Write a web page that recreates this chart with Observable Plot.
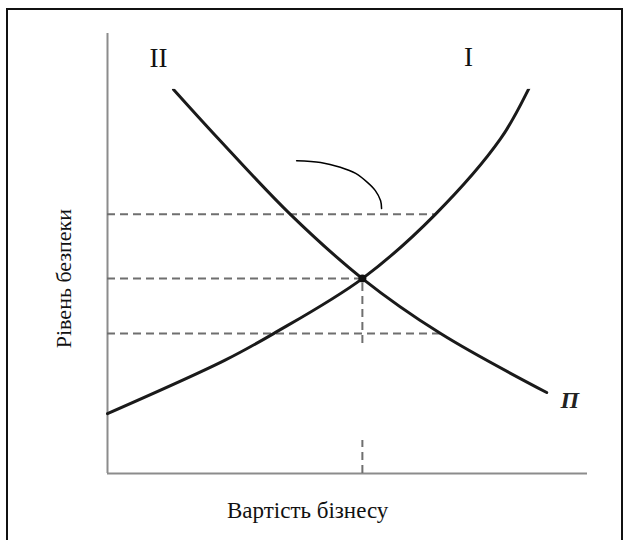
<!DOCTYPE html>
<html>
<head>
<meta charset="utf-8">
<script src="https://cdn.jsdelivr.net/npm/d3@7"></script>
<script src="https://cdn.jsdelivr.net/npm/@observablehq/plot@0.6"></script>
<style>
  html, body { margin: 0; padding: 0; background: #fff; }
  #wrap { position: relative; width: 628px; height: 540px; overflow: hidden; }
  #frame { position: absolute; left: 6px; top: 8px; width: 617px; height: 540px; border: 2px solid #111; box-sizing: border-box; pointer-events: none; }
  #chart { position: absolute; left: 0; top: 0; }
</style>
</head>
<body>
<div id="wrap"><div id="chart"></div><div id="frame"></div></div>
<script>
// Curve I (rising) and curve II (falling, labelled "П")
const curveIX = [0, 2.44, 3.46, 5.31, 6.83, 8.19, 8.77, 9.04];
const curveIY = [1.36, 2.57, 3.18, 4.43, 5.89, 7.61, 8.73, 9.39];
const curveIIX = [1.375, 2.31, 3.81, 5.31, 6.94, 9.15];
const curveIIY = [8.73, 7.61, 5.89, 4.43, 3.18, 1.84];

// Equilibrium point
const eqX = [5.31];
const eqY = [4.43];

// Dashed guide levels: [y level, x end]
const levelY = [5.89, 4.43, 3.18];
const levelXEnd = [6.83, 5.31, 6.94];

// Bracket arc (annotation)
const arcX = [3.94, 4.44, 4.85, 5.17, 5.42, 5.58, 5.69, 5.71];
const arcY = [7.11, 7.07, 6.96, 6.82, 6.61, 6.43, 6.20, 6.02];

// White masking boxes of the original scan
const maskX1 = [0.56, 7.10, 3.44];
const maskX2 = [3.02, 9.29, 7.10];
const maskY1 = [8.73, 8.73, 0.75];
const maskY2 = [9.98, 9.98, 2.93];

// Labels
const labelText = ["II", "I"];
const labelX = [1.06, 7.52];
const labelY = [9.43, 9.45];
const pLabel = "П";
const xTitle = "Вартість бізнесу";
const yTitle = "Рівень безпеки";

const curveI = curveIX.map((x, i) => ({x, y: curveIY[i]}));
const curveII = curveIIX.map((x, i) => ({x, y: curveIIY[i]}));
const arc = arcX.map((x, i) => ({x, y: arcY[i]}));
const levels = levelY.map((y, i) => ({y, x2: levelXEnd[i]}));
const masks = maskX1.map((x1, i) => ({x1, x2: maskX2[i], y1: maskY1[i], y2: maskY2[i]}));
const labels = labelText.map((t, i) => ({t, x: labelX[i], y: labelY[i]}));

const serif = "'Liberation Serif', 'Times New Roman', serif";

const plot = Plot.plot({
  width: 628,
  height: 540,
  marginLeft: 107,
  marginRight: 41,
  marginTop: 33,
  marginBottom: 67,
  x: {domain: [0, 10], axis: null},
  y: {domain: [0, 10], axis: null},
  style: {background: "transparent", overflow: "visible"},
  marks: [
    // axes
    Plot.ruleX([0], {y1: 0, y2: 10, stroke: "#8c8c8c", strokeWidth: 2}),
    Plot.ruleY([0], {x1: 0, x2: 10, stroke: "#8c8c8c", strokeWidth: 2}),
    // dashed guides
    Plot.ruleY(levels, {y: "y", x1: 0, x2: "x2", stroke: "#6f6f6f", strokeWidth: 2, strokeDasharray: "8,5"}),
    Plot.ruleX(eqX, {x: d => d, y1: 0, y2: eqY[0], stroke: "#6f6f6f", strokeWidth: 2, strokeDasharray: "8,5"}),
    // curves
    Plot.line(curveI, {x: "x", y: "y", curve: "catmull-rom", stroke: "#1a1a1a", strokeWidth: 3}),
    Plot.line(curveII, {x: "x", y: "y", curve: "catmull-rom", stroke: "#1a1a1a", strokeWidth: 3}),
    Plot.dot(eqX.map((x, i) => ({x, y: eqY[i]})), {x: "x", y: "y", r: 4, fill: "#111"}),
    // masks
    Plot.rect(masks, {x1: "x1", x2: "x2", y1: "y1", y2: "y2", fill: "#fff"}),
    // arc annotation
    Plot.line(arc, {x: "x", y: "y", curve: "catmull-rom", stroke: "#000", strokeWidth: 1.5}),
    // labels
    Plot.text(labels, {x: "x", y: "y", text: "t", fontFamily: serif, fontSize: 27, fill: "#111"}),
    Plot.text([pLabel], {x: 9.63, y: 1.66, text: d => d, fontFamily: serif, fontStyle: "italic", fontWeight: "bold", fontSize: 24, fill: "#222"}),
    Plot.text([xTitle], {x: 4.17, y: -0.84, text: d => d, fontFamily: serif, fontSize: 23, fill: "#111"}),
    Plot.text([yTitle], {x: -0.9, y: 4.43, text: d => d, rotate: -90, fontFamily: serif, fontSize: 22, fill: "#111"})
  ]
});
document.getElementById("chart").appendChild(plot);
</script>
</body>
</html>
